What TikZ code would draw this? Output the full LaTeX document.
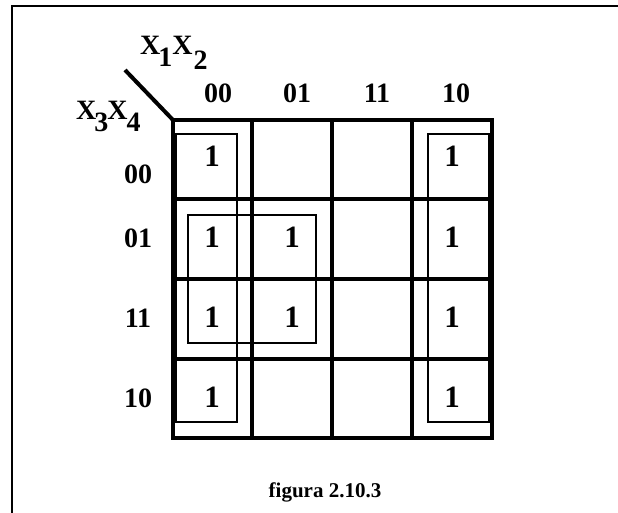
\documentclass[tikz,border=0pt]{standalone}
\usepackage{fontspec}
\setmainfont{Liberation Serif}
\begin{document}
\begin{tikzpicture}[x=1pt,y=-1pt,
  frame/.style={line width=1.6pt},
  kgrid/.style={line width=4pt},
  grp/.style={line width=1.6pt},
  lbl/.style={font=\fontsize{28}{28}\selectfont\bfseries, inner sep=0pt, anchor=base},
  var/.style={font=\fontsize{28}{28}\selectfont\bfseries, inner sep=0pt, anchor=base west},
  one/.style={font=\fontsize{31}{31}\selectfont\bfseries, inner sep=0pt, anchor=base},
  captxt/.style={font=\fontsize{21}{21}\selectfont\bfseries, inner sep=0pt, anchor=base}]
\useasboundingbox (0,0) rectangle (618,513);
\newcommand{\subsk}[2]{\raisebox{-#1pt}{#2}}
% frame
\coordinate (ftr) at (618,6);
\coordinate (ftl) at (12,6);
\coordinate (fbl) at (12,513);
\draw[frame] (ftr) -- (ftl) -- (fbl);
% grid
\coordinate (g00) at (173,120);
\coordinate (g44) at (492,438);
\draw[kgrid] (g00) rectangle (g44);
\foreach \x in {252,332,412} \draw[kgrid] (\x,120) -- (\x,438);
\foreach \y in {199,279,359} \draw[kgrid] (173,\y) -- (492,\y);
% diagonal
\coordinate (dg) at (125,70);
\draw[line width=4pt] (dg) -- (g00);
% variable labels
\node[var] (x12) at (140,55) {X\kern-2pt\subsk{12}{1}X\kern1pt\subsk{15}{2}};
\node[var] (x34) at (76,120) {X\kern-2pt\subsk{12}{3}\kern-1pt X\kern-1pt\subsk{12}{4}};
% column headers
\node[lbl] (c00) at (218,103) {00};
\node[lbl] (c01) at (297,103) {01};
\node[lbl] (c11) at (377,103) {11};
\node[lbl] (c10) at (456,103) {10};
% row headers
\node[lbl] (r00) at (138,183) {00};
\node[lbl] (r01) at (138,247) {01};
\node[lbl] (r11) at (138,327) {11};
\node[lbl] (r10) at (138,407) {10};
% ones
\node[one] (a00) at (212,167) {1};
\node[one] (a01) at (212,247) {1};
\node[one] (a11) at (212,327) {1};
\node[one] (a10) at (212,407) {1};
\node[one] (b01) at (292,247) {1};
\node[one] (b11) at (292,327) {1};
\node[one] (d00) at (452,167) {1};
\node[one] (d01) at (452,247) {1};
\node[one] (d11) at (452,327) {1};
\node[one] (d10) at (452,407) {1};
% groups
\draw[grp] (176,134) rectangle (237,422);
\draw[grp] (428,134) rectangle (489,422);
\draw[grp] (188,215) rectangle (316,343);
% caption
\node[captxt] (cap) at (325,497) {figura 2.10.3};
\end{tikzpicture}
\end{document}
